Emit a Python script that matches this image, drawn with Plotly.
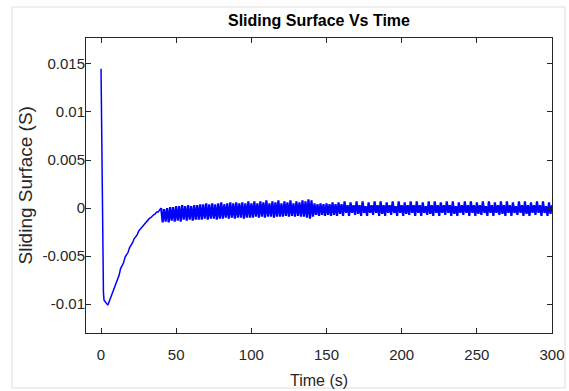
import plotly.graph_objects as go

# ---- data (values in units of 1e-4) ----
t_transient = [0, 0.4, 0.8, 1.2, 1.6, 2, 3, 4, 4.5,
               5, 6, 7, 8, 9, 10, 11, 12, 13, 14, 15, 16, 17, 18, 19, 20,
               21, 22, 23, 24, 25, 26, 27, 28, 29, 30, 31, 32, 33, 34, 35,
               36, 37, 38, 39, 40]
s_transient = [145, 80, 10, -50, -88, -96, -98, -100, -101,
               -99, -95, -90, -87, -83, -77, -74, -70, -63, -60, -57, -51, -49, -46, -41, -39,
               -36, -32, -30, -28, -24, -22, -21, -18, -16, -15, -12, -11, -10, -8, -7,
               -6, -4, -4, -2, 0]

# chattering phase, one sample per second from t = 40 s to t = 300 s
s_chatter = (
    [0, -15, -1, -14, 0, -15, 1, -13, 1]
    + [-14, 2, -13, 2, -14, 3, -12, 2, -13, 3, -12, 2, -13, 3, -12, 3, -12, 4, -12]
    + [4, -11, 5, -12, 4, -11, 5, -11, 4, -12, 5, -11, 6, -11, 4, -10, 5, -11, 6, -10,
       5, -11, 6, -10, 5, -10, 6, -11, 5, -10, 7, -10, 5]
    + [-10, 7, -9, 5, -10, 7, -9, 6, -10, 8, -9, 5, -9, 7, -10, 6, -9, 8, -9, 5,
       -9, 7, -8, 6, -9, 8, -8, 5, -9, 7, -8, 6, -9, 8, -9, 7]
    + [-10, 9, -11, 8, -9]
    + [5, -7, 4, -8, 5, -7, 4, -8, 5, -7, 4, -8, 6, -7, 4, -8, 6, -6, 4]
    + [-8, 7, -5, 3, -8, 6, -5, 3, -7, 7, -6, 3, -8, 7, -5, 2, -8, 6, -5, 3,
       -7, 7, -5, 3, -8, 7, -6, 3, -8, 6, -5, 3, -7, 7, -5, 2, -8, 7, -5, 3,
       -8, 6, -6, 3, -7, 7, -5, 3, -8, 7, -5, 3, -8, 6, -5, 2, -7, 7, -6, 3,
       -8, 7, -5, 3, -8, 6, -5, 3, -7, 7, -5, 3, -8, 7, -6, 2, -8, 6, -5, 3,
       -7, 7, -5, 3, -8, 7, -5, 3, -8, 6, -6, 3, -7, 7, -5, 2, -8, 7, -5, 3,
       -8, 6, -5, 3, -7, 7, -6, 3, -8, 7, -5, 3, -8, 6, -5, 2, -7, 7, -5, 3,
       -8, 7, -6, 3, -8, 6, -5, 3, -7, 7, -5, 3, -8, 7, -5, 2, -8, 6, -6, 3]
)
t_chatter = list(range(40, 40 + len(s_chatter)))

SCALE = 1e-4

x_ticks = [0, 50, 100, 150, 200, 250, 300]
y_ticks = [-0.01, -0.005, 0, 0.005, 0.01, 0.015]
y_tick_labels = ["-0.01", "-0.005", "0", "0.005", "0.01", "0.015"]

FONT = "Liberation Sans, Arial, sans-serif"
AX = "#262626"
BLUE = "#0000ff"

fig = go.Figure()
fig.add_trace(go.Scatter(x=t_transient, y=[v * SCALE for v in s_transient],
                         mode="lines", line=dict(color=BLUE, width=1.5),
                         showlegend=False))
fig.add_trace(go.Scatter(x=t_chatter, y=[v * SCALE for v in s_chatter],
                         mode="lines", line=dict(color=BLUE, width=2.2),
                         showlegend=False))

W, H = 569, 391
L, R, T, B = 86, 17, 38, 58
pw, ph = W - L - R, H - T - B

def px_to_paper_x(px):
    return (px - L) / pw

def px_to_paper_y(py):
    return (H - B - py) / ph

fig.update_layout(
    width=W, height=H,
    margin=dict(l=L, r=R, t=T, b=B, pad=0),
    paper_bgcolor="white", plot_bgcolor="white",
    font=dict(family=FONT, size=15, color=AX),
    title=dict(text="<b>Sliding Surface Vs Time</b>", x=0.5, xref="paper",
               y=1 - 20 / H, yanchor="middle", xanchor="center",
               font=dict(family=FONT, size=16, color="black")),
    xaxis=dict(range=[-10, 300], tickvals=x_ticks, ticks="inside", ticklen=5,
               tickcolor=AX, showline=True, linecolor=AX, linewidth=1,
               mirror="ticks", showgrid=False, zeroline=False, automargin=False,
               ticklabelstandoff=8,
               tickfont=dict(family=FONT, size=15, color=AX)),
    yaxis=dict(range=[-0.013, 0.0177], tickvals=y_ticks, ticktext=y_tick_labels,
               ticks="inside", ticklen=5, tickcolor=AX, showline=True,
               linecolor=AX, linewidth=1, mirror="ticks", showgrid=False,
               zeroline=False, automargin=False, ticklabelstandoff=-3,
               tickfont=dict(family=FONT, size=15, color=AX)),
    annotations=[
        dict(text="Time (s)", xref="paper", yref="paper", x=0.5,
             y=px_to_paper_y(380), xanchor="center", yanchor="middle",
             showarrow=False, font=dict(family=FONT, size=16, color=AX)),
        dict(text="Sliding Surface (S)", xref="paper", yref="paper",
             x=px_to_paper_x(25), y=0.5, xanchor="center", yanchor="middle",
             textangle=-90, showarrow=False,
             font=dict(family=FONT, size=19, color=AX)),
    ],
    shapes=[
        dict(type="rect", xref="paper", yref="paper",
             x0=px_to_paper_x(12), x1=px_to_paper_x(565),
             y0=px_to_paper_y(388), y1=px_to_paper_y(7),
             line=dict(color="#dddddd", width=1), layer="below"),
    ],
)

fig.write_html("out.html")
